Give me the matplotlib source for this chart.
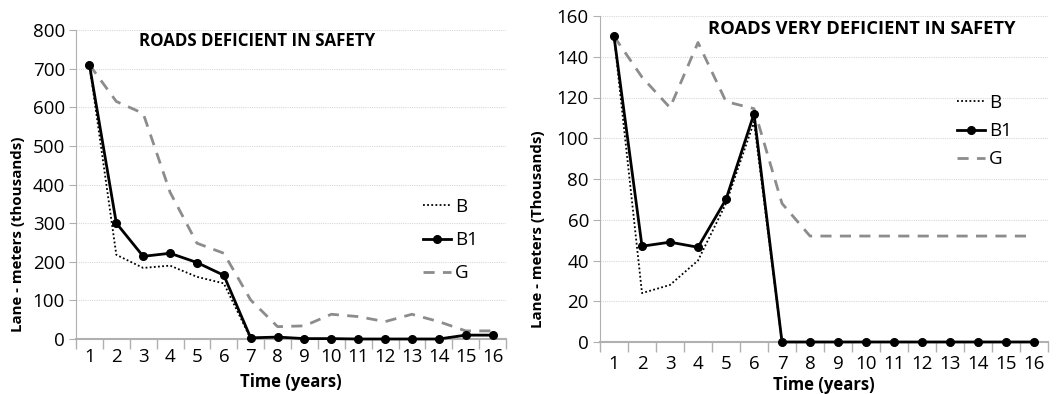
import numpy as np
import matplotlib.pyplot as plt

plt.rcParams['font.family'] = ['Open Sans', 'DejaVu Sans']

years = list(range(1, 17))

# roads deficient in safety (thousand lane-meters)
def_B = [710, 218, 184, 190, 161, 144, 1, 1, 0, 0, 0, 0, 0, 0, 10, 10]
def_B1 = [710, 300, 214, 222, 198, 165, 3, 5, 1, 1, 0, 0, 0, 0, 10, 10]
def_G = [710, 615, 584, 380, 248, 222, 101, 32, 34, 64, 58, 45, 64, 45, 21, 21]

# roads very deficient in safety (thousand lane-meters)
vdef_B = [150, 24, 28, 40, 68, 108, 0, 0, 0, 0, 0, 0, 0, 0, 0, 0]
vdef_B1 = [150, 47, 49, 46.5, 70, 112, 0, 0, 0, 0, 0, 0, 0, 0, 0, 0]
vdef_G = [150, 130, 115, 147, 118, 114.5, 68, 52, 52, 52, 52, 52, 52, 52, 52, 52]

W, H = 1057, 394
fig = plt.figure(figsize=(W / 100, H / 100), dpi=100)


def draw_panel(ax, b, b1, g, ymax, ystep, title, title_size, ylabel, title_xy,
               leg_xy, leg_spacing, xpad, xlab_y, ylab_xy):
    ax.plot(years, b, color='black', linestyle=(0, (1, 1.3)), linewidth=1.3,
            label='B', clip_on=False)
    ax.plot(years, b1, color='black', linewidth=2, marker='o', markersize=5.5,
            label='B1', clip_on=False, zorder=3)
    ax.plot(years, g, color='#8c8c8c', linestyle=(0, (4, 3)), linewidth=2,
            label='G', clip_on=False)
    ax.set_xlim(0.5, 16.5)
    ax.set_ylim(0, ymax)
    ax.set_yticks(np.arange(0, ymax + 1, ystep))
    ax.yaxis.grid(True, color='#d9d9d9', linewidth=0.8, linestyle=(0, (1, 1)))
    ax.set_axisbelow(True)
    # category axis: tick marks between categories, labels centred
    ax.set_xticks(years)
    ax.set_xticks(np.arange(0.5, 17, 1), minor=True)
    ax.tick_params(axis='x', which='major', length=0, pad=xpad, labelsize=13.5)
    ax.tick_params(axis='x', which='minor', length=7, color='#b0b0b0', width=1)
    ax.tick_params(axis='y', length=5, color='#b0b0b0', labelsize=13.5, pad=3)
    for lab in ax.get_xticklabels():
        lab.set_va('center')
    for s in ['top', 'right']:
        ax.spines[s].set_visible(False)
    for s in ['left', 'bottom']:
        ax.spines[s].set_color('#b0b0b0')
    ax.spines['bottom'].set_linewidth(1.5)
    ax.set_xlabel('Time (years)', fontsize=12, fontweight='bold', va='center')
    ax.xaxis.set_label_coords(0.5, xlab_y)
    ax.set_ylabel(ylabel, fontsize=10.8, fontweight='bold', va='center')
    ax.yaxis.set_label_coords(*ylab_xy)
    ax.text(title_xy[0], title_xy[1], title, transform=ax.transAxes,
            fontsize=title_size, fontweight='bold', ha='center', va='center')
    ax.legend(loc='center left', bbox_to_anchor=leg_xy, frameon=False, fontsize=13.5,
              handlelength=1.5, handletextpad=0.2, labelspacing=leg_spacing)


ax1 = fig.add_axes([76 / W, 1 - 339 / H, 430 / W, 309 / H])
draw_panel(ax1, def_B, def_B1, def_G, 800, 100, 'ROADS DEFICIENT IN SAFETY', 12.2,
           'Lane - meters (thousands)', (0.42, 0.965), (0.768, 0.32), 0.82,
           13, -0.139, (-0.135, 0.34))

ax2 = fig.add_axes([600 / W, 1 - 342 / H, 448 / W, 326 / H])
draw_panel(ax2, vdef_B, vdef_B1, vdef_G, 160, 20, 'ROADS VERY DEFICIENT IN SAFETY', 13.2,
           'Lane - meters (Thousands)', (0.585, 0.96), (0.759, 0.647), 0.55,
           15.5, -0.133, (-0.138, 0.345))

fig.savefig('out.png', dpi=100)
